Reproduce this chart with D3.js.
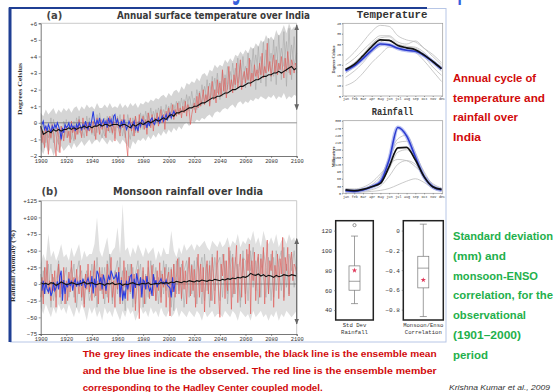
<!DOCTYPE html>
<html>
<head>
<meta charset="utf-8">
<script src="https://cdn.jsdelivr.net/npm/d3@7"></script>
<style>
  html, body { margin: 0; padding: 0; background: #fff; overflow: hidden; }
  svg { display: block; }
</style>
</head>
<body>
<script>
// ---------------- Data ----------------
// Panel (a): annual surface temperature anomaly over India (°C)
const yearsBiennial = d3.range(1900, 2101, 2);
const yearsAnnual = d3.range(1900, 2101);
const yearsObs = d3.range(1901, 2006);

const tempMean = [
  -0.2,-0.7,-0.6,-0.5,-0.6,-0.4,-0.5,-0.4,-0.5,-0.4,
  -0.4,-0.3,-0.4,-0.3,-0.4,-0.3,-0.3,-0.2,-0.3,-0.2,
  -0.3,-0.2,-0.2,-0.1,-0.2,-0.1,-0.1,-0.2,-0.1,-0.1,
  -0.1,-0.2,-0.1,-0.1,-0.2,-0.3,-0.1,-0.2,-0.1,0.0,
  -0.1,0.0,0.1,0.0,0.1,0.2,0.1,0.2,0.3,0.2,
  0.4,0.5,0.4,0.6,0.6,0.7,0.7,0.8,0.9,0.9,
  1.0,1.0,1.1,1.2,1.2,1.3,1.4,1.5,1.5,1.6,
  1.6,1.7,1.8,1.8,1.9,2.0,2.0,2.1,2.2,2.2,
  2.3,2.4,2.4,2.5,2.6,2.6,2.7,2.8,2.8,2.9,
  2.9,3.0,3.0,3.1,3.0,3.1,3.2,3.3,3.4,3.2,
  3.3];

const tempHadley = [
  -0.3,-1.2,-0.5,-1.5,-0.2,-0.8,-1.9,-0.4,-0.9,-0.1,
  -0.6,-1.4,-2.0,-0.3,-0.9,-1.8,-0.2,-0.7,-1.1,-0.4,
  -0.2,-0.9,-0.5,-1.2,0.1,-0.6,-0.3,-1.0,-0.2,-0.7,
  0.2,-0.5,-0.9,0.3,-0.4,-0.1,-0.8,0.0,-0.5,-0.2,
  -0.6,0.1,-0.3,-1.0,0.3,-0.2,-0.7,0.2,-0.4,0.0,
  -0.3,-0.9,0.2,-0.5,0.4,-0.2,-0.6,0.1,-1.1,-0.1,
  0.3,-0.4,-0.8,0.2,-0.3,0.5,-0.6,-1.3,-2.0,-0.2,
  0.3,-0.5,0.1,-0.8,0.4,-0.2,-0.6,0.5,-0.3,0.0,
  0.4,-0.4,0.2,-0.7,0.6,0.0,-0.3,0.5,-0.5,0.3,
  0.1,0.6,-0.2,0.4,0.8,0.0,0.5,-0.4,0.7,0.2,
  0.9,0.3,0.6,1.1,0.2,0.8,0.4,1.2,0.5,0.9,
  0.3,1.0,0.6,1.3,0.4,1.1,0.7,-0.1,0.5,0.9,
  1.2,0.6,1.6,0.9,1.8,1.0,1.4,2.0,1.1,1.7,
  1.3,2.2,1.0,1.8,2.5,1.4,2.0,1.2,2.6,1.7,
  2.4,1.6,3.2,1.9,2.7,1.5,2.3,3.4,2.0,2.6,
  1.8,2.9,2.3,3.6,2.1,2.8,3.8,2.0,2.7,3.1,
  2.4,3.3,2.6,3.9,2.2,3.0,2.5,3.5,2.8,3.2,
  2.6,3.6,2.9,4.2,2.7,3.4,3.0,4.8,3.1,3.7,
  2.8,3.5,4.1,3.0,3.8,2.9,3.6,3.2,4.0,3.3,
  2.7,3.9,3.1,4.3,3.4,2.9,3.8,3.5,3.0,3.6,
  3.4];

const tempObserved = [
  -0.1,0.1,-0.4,-0.2,-0.5,-0.1,-0.3,-0.6,-0.2,-0.4,
  -0.1,-0.3,0.0,-0.2,-0.5,-1.0,-0.3,-0.6,-0.1,-0.3,
  -0.2,0.0,-0.4,-0.1,-0.3,-0.2,-0.5,-0.1,-0.3,0.0,
  -0.2,-0.4,-0.1,-0.3,0.1,-0.2,-0.4,0.0,-0.2,0.2,
  0.7,0.1,-0.2,0.2,-0.1,0.3,-0.2,0.0,0.2,-0.1,
  0.1,-0.3,0.3,0.0,0.2,-0.2,0.4,0.5,0.0,0.2,
  -0.1,-0.3,0.1,-0.2,0.2,-0.1,-0.4,-0.2,0.1,-0.1,
  -0.3,-0.1,0.1,-0.4,-0.2,-0.5,0.0,-0.2,0.2,0.1,
  -0.1,0.0,-0.3,0.1,-0.2,0.2,0.3,0.0,-0.1,0.2,
  0.1,0.3,0.0,0.2,0.4,0.1,0.3,0.5,0.2,0.4,
  0.6,0.3,0.5,0.7,0.5];

const tempEnsHigh = [
  0.6,0.4,0.8,0.5,0.7,0.9,0.5,0.8,0.6,0.9,
  0.7,0.9,0.6,0.9,1.0,0.7,1.0,0.8,1.1,0.9,
  1.0,0.8,1.2,0.9,0.9,1.1,0.9,1.2,0.9,1.0,
  0.9,1.2,0.9,1.1,0.9,1.2,1.0,1.2,0.9,1.2,
  1.1,1.3,1.2,1.4,1.3,1.5,1.4,1.6,1.7,1.5,
  1.8,1.6,1.9,2.0,1.8,2.2,2.0,2.4,2.3,2.5,
  2.4,2.7,2.5,2.9,3.0,2.8,3.2,3.1,3.5,3.3,
  3.5,3.4,3.8,3.6,3.9,3.7,4.1,4.0,4.3,4.1,
  4.4,4.2,4.6,4.4,4.8,4.6,5.0,4.8,5.3,5.0,
  5.2,5.0,5.6,5.2,5.5,5.9,5.4,6.0,5.6,5.8,
  5.5];

const tempEnsLow = [
  -1.6,-1.9,-1.4,-1.8,-1.5,-2.0,-1.6,-1.8,-1.4,-1.7,
  -1.5,-1.3,-1.6,-1.2,-1.5,-1.3,-1.1,-1.4,-1.2,-1.0,
  -1.3,-1.1,-1.0,-1.2,-0.9,-1.1,-1.3,-1.0,-1.2,-0.9,
  -1.1,-1.3,-1.0,-1.2,-1.4,-1.6,-1.1,-1.3,-1.0,-1.1,
  -0.9,-1.1,-0.8,-1.0,-0.7,-0.9,-0.6,-0.8,-0.5,-0.7,
  -0.4,-0.6,-0.3,-0.5,-0.2,-0.4,-0.1,0.0,-0.2,0.1,
  0.0,0.2,0.1,0.3,0.2,0.4,0.5,0.3,0.6,0.7,
  0.6,0.8,0.9,0.8,1.0,1.1,0.9,1.2,1.3,1.1,
  1.3,1.2,1.4,1.3,1.5,1.4,1.6,1.5,1.4,1.6,
  1.5,1.7,1.4,1.6,1.5,1.8,1.4,1.6,1.5,1.7,
  1.6];

const tempMemberA = [
  -0.9,0.1,-1.2,-0.3,-1.0,0.2,-0.8,-1.3,-0.2,-0.9,
  0.2,-0.8,-0.4,-1.1,0.3,-0.6,-0.2,-0.9,0.4,-0.5,
  -0.1,-0.8,0.5,-0.4,-0.9,0.3,-0.5,0.1,-0.7,0.4,
  -0.3,0.5,-0.8,0.2,-0.4,-1.0,0.3,-0.6,0.1,-0.4,
  0.5,-0.3,0.6,-0.2,0.7,0.1,0.9,0.2,0.8,0.3,
  1.0,0.2,1.1,0.5,1.3,0.6,1.4,0.8,1.6,0.9,
  1.5,0.8,1.9,1.1,2.2,1.4,2.4,1.5,2.7,1.8,
  2.5,1.6,2.9,2.0,3.1,2.2,3.3,2.4,3.6,2.6,
  3.4,2.5,3.8,2.8,4.1,3.0,4.0,2.9,4.4,3.2,
  4.2,2.8,4.6,3.1,4.5,3.4,4.9,3.0,4.7,3.5,
  4.2];

const tempMemberB = [
  -0.2,-1.3,-0.4,-0.9,0.3,-1.2,-0.1,-0.7,-1.1,0.1,
  -0.9,-0.2,-1.0,0.1,-0.7,0.4,-0.8,0.0,-0.6,0.3,
  -0.7,0.2,-0.6,0.6,-0.3,-0.8,0.4,-0.6,0.5,-0.5,
  0.4,-0.6,0.2,-0.9,0.5,-0.3,-0.8,0.4,-0.5,0.6,
  -0.4,0.7,-0.2,0.9,-0.1,0.8,0.0,1.0,0.2,1.1,
  0.3,1.2,0.4,1.3,0.5,1.5,0.6,1.7,0.7,1.9,
  0.8,2.0,1.0,2.3,1.2,2.6,1.1,2.8,1.5,3.0,
  1.4,3.1,1.7,3.4,1.9,3.6,2.0,3.9,2.2,4.0,
  2.1,4.2,2.3,4.5,2.0,4.6,2.4,4.9,2.2,5.1,
  2.5,5.0,2.3,5.3,2.6,5.5,2.2,5.7,2.6,5.2,
  3.0];

const tempTicks = [-2, -1, 0, 1, 2, 3, 4, 5, 6];
const tempArrow = [0.8, 5.9];

// Panel (b): monsoon rainfall anomaly over India (%)
const rainMean = [
  2,0,1,-1,2,1,-2,0,3,1,
  -1,0,2,1,-1,0,1,3,0,1,
  2,0,-1,1,0,-2,1,0,2,-1,
  0,1,-2,0,-1,1,2,0,-1,0,
  1,0,2,-1,0,1,0,2,1,2,
  1,3,2,4,3,2,4,3,5,4,
  3,5,4,6,5,4,6,5,7,6,
  5,7,6,8,7,9,8,10,9,11,
  10,12,16,14,13,15,12,14,11,13,
  12,10,13,11,12,14,13,12,14,13,
  12];

const rainHadley = [
  -20,10,-30,25,-5,35,-15,5,-25,15,
  -10,20,-35,8,30,-20,12,-8,25,-30,
  5,-25,18,-12,35,-5,10,-28,22,0,
  -15,28,-20,6,-35,15,-8,30,-12,20,
  -25,10,35,-18,5,-30,25,-10,15,-22,
  8,-15,30,-28,12,40,-20,5,-35,18,
  -8,25,-30,10,-18,35,-5,20,-25,12,
  -12,30,-20,15,-40,8,22,-52,10,-15,
  25,-30,12,-8,35,-22,5,28,-18,10,
  -25,20,-10,32,-28,15,-5,25,-35,8,
  18,-48,22,-12,30,-20,10,38,-15,25,
  -22,35,-8,20,-30,12,40,-18,28,-10,
  22,-35,15,45,-20,30,-12,25,-42,18,
  35,-15,28,-25,40,8,-30,20,50,-18,
  -50,30,12,45,-22,35,-10,55,20,-38,
  40,-15,30,58,-28,25,45,-20,38,10,
  -30,52,20,60,-45,35,5,48,-25,30,
  45,-20,38,15,55,-30,28,66,-15,35,
  20,50,-35,28,10,45,-22,38,15,70,
  -25,40,20,55,-18,35,48,5,30,25,
  15];

const rainObserved = [
  -10,5,-15,2,-8,-12,-5,-18,-12,3,
  -10,-6,4,-8,12,20,-25,6,-15,1,
  -5,8,-3,5,-10,2,7,-4,3,-2,
  6,-3,8,2,-6,4,9,1,-3,12,
  -14,8,-5,20,15,2,10,-8,14,5,
  -10,3,12,6,20,14,8,10,15,2,
  18,-20,6,-25,-10,-22,5,-8,3,12,
  14,-22,8,-6,16,4,-3,10,-20,6,
  4,-8,12,-2,-10,-6,-18,15,-1,6,
  -5,2,4,8,1,3,0,6,-2,-4,
  -6,-20,10,-12,2];

const rainEnsHigh = [
  30,45,35,75,40,50,35,45,60,40,
  45,35,55,40,50,60,35,50,40,45,
  45,60,100,50,40,55,70,40,50,55,
  85,45,120,50,55,40,55,45,60,50,
  40,55,45,50,55,35,50,40,55,45,
  45,80,50,40,55,45,60,50,55,60,
  50,60,55,60,65,55,50,65,60,55,
  65,55,60,70,55,65,60,75,55,65,
  60,70,65,80,60,70,55,80,65,60,
  70,60,75,55,65,70,60,75,65,70,
  55];

const rainEnsLow = [
  -35,-45,-30,-40,-50,-35,-45,-30,-40,-35,
  -45,-30,-40,-50,-35,-45,-30,-40,-55,-35,
  -45,-35,-50,-40,-55,-35,-45,-40,-50,-35,
  -45,-55,-40,-50,-35,-45,-40,-55,-45,-35,
  -45,-40,-50,-35,-45,-40,-50,-35,-45,-50,
  -40,-50,-45,-35,-50,-40,-45,-50,-40,-45,
  -50,-40,-45,-55,-40,-50,-45,-40,-50,-45,
  -45,-50,-40,-45,-50,-40,-45,-55,-40,-45,
  -50,-45,-55,-40,-50,-45,-40,-50,-45,-55,
  -45,-50,-40,-55,-45,-50,-40,-45,-50,-45,
  -40];

const rainMemberA = [
  15,-20,25,-10,30,-25,5,35,-15,20,
  -30,10,25,-20,15,35,-25,5,20,-15,
  30,-20,40,-10,25,-30,35,10,-25,20,
  -15,40,-30,25,-10,30,-35,15,35,-20,
  20,-30,25,-15,30,-25,10,-20,35,-10,
  25,-35,30,-15,40,-25,20,35,-20,30,
  -20,40,15,-30,45,-10,35,-25,40,10,
  -25,45,20,-15,50,-20,40,15,-25,50,
  -15,45,20,55,-10,40,-20,50,25,-15,
  45,-20,50,25,-10,55,-5,45,20,50,
  10];

const rainMemberB = [
  -25,20,-15,30,-35,10,-20,25,-30,5,
  25,-20,5,30,-35,10,20,-30,15,-25,
  -10,30,-35,20,-15,25,-20,45,-30,15,
  35,-25,20,-40,30,-15,25,-30,5,30,
  -35,15,-20,35,-10,25,-30,20,-15,30,
  -20,25,-40,35,-10,30,-35,15,40,-15,
  35,-30,20,40,-25,30,-35,45,-10,30,
  40,-20,35,-30,25,45,-15,30,-35,40,
  35,-25,50,-5,35,-30,45,10,-20,40,
  -25,40,-10,35,50,-20,30,-15,45,-5,
  25];

const rainTicks = [-75, -50, -25, 0, 25, 50, 75, 100, 125];
const rainArrow = [-60, 68];
const yearTicks = [1900, 1920, 1940, 1960, 1980, 2000, 2020, 2040, 2060, 2080, 2100];

// Annual cycle (monthly climatology)
const months = ["jan","feb","mar","apr","may","jun","jul","aug","sep","oct","nov","dec"];
const cycTempObserved = [17.2, 19.5, 23.0, 27.0, 30.0, 29.6, 28.0, 27.0, 26.5, 24.5, 21.5, 18.0];
const cycTempMean     = [17.8, 20.2, 24.3, 28.8, 32.0, 31.8, 29.3, 28.2, 27.3, 24.8, 21.6, 18.2];
const cycTempMembers = [
  [22, 26, 31, 36, 39, 38.5, 34, 32, 31, 28, 25, 21],
  [20, 23, 27, 31, 34, 34, 31, 30, 31.5, 28, 24, 20],
  [18, 21, 25, 30, 33, 33.5, 30, 29, 28.5, 26, 22, 19],
  [16, 19, 23, 28, 31, 32, 29.5, 28.5, 28, 25, 21, 17],
  [14, 17, 21, 26, 29, 30, 28, 27, 26.5, 24, 19, 15],
  [10, 12, 16, 21, 25, 28.5, 28, 27.5, 26, 22, 17, 12]
];
const cycTempTicks = [5, 10, 15, 20, 25, 30, 35, 40];

const cycRainObserved = [11, 8, 14, 27, 48, 138, 272, 237, 151, 69, 27, 14];
const cycRainMean     = [14, 11, 16, 27, 41, 110, 188, 190, 138, 69, 27, 16];
const cycRainMembers = [
  [12, 10, 15, 30, 60, 150, 225, 240, 170, 80, 30, 15],
  [15, 12, 18, 35, 70, 140, 210, 215, 160, 90, 35, 18],
  [10, 8, 12, 25, 45, 100, 170, 180, 140, 70, 25, 12],
  [20, 18, 25, 45, 80, 120, 140, 135, 110, 75, 40, 22],
  [8, 6, 8, 15, 30, 70, 120, 135, 120, 60, 20, 10],
  [5, 4, 5, 8, 12, 20, 35, 50, 60, 45, 20, 8]
];
const cycRainTicks = [0, 30, 60, 90, 120, 150, 180, 210, 240, 270, 300];

// Box plots: [lower whisker, q1, median, q3, upper whisker]
const stdDevBox = [46.5, 60, 69, 84.5, 114.5];
const stdDevOutliers = [125.5];
const stdDevObserved = 80;
const stdDevTicks = [40, 60, 80, 100, 120];

const ensoBox = [-0.87, -0.58, -0.38, -0.26, 0.065];
const ensoOutliers = [];
const ensoObserved = -0.5;
const ensoTicks = [-0.8, -0.6, -0.4, -0.2, 0];

// ---------------- Drawing ----------------
const W = 558, H = 392;
const svg = d3.select("body").append("svg").attr("width", W).attr("height", H);
const MONO = "'Liberation Mono', 'DejaVu Sans Mono', monospace";
const SANS = "'DejaVu Sans', Verdana, sans-serif";
const NOTE = "'Liberation Sans', Arial, sans-serif";

const defs = svg.append("defs");
defs.append("marker").attr("id", "ah").attr("viewBox", "0 0 10 10")
  .attr("refX", 9).attr("refY", 5).attr("markerWidth", 5).attr("markerHeight", 5)
  .attr("orient", "auto-start-reverse")
  .append("path").attr("d", "M0,1 L10,5 L0,9 Z").attr("fill", "#666");
defs.append("clipPath").attr("id", "imgclip")
  .append("rect").attr("x", 11).attr("y", 9).attr("width", 435).attr("height", 333);

// slide heading, only its lower edge shows above the figure
svg.append("text").attr("transform", "translate(140,-0.6) scale(1,2.2)")
  .attr("font-family", SANS).attr("font-weight", "bold").attr("font-size", 14)
  .attr("fill", "#3560dc").attr("textLength", 335).attr("lengthAdjust", "spacingAndGlyphs")
  .text("Climate change over India: the ensemble scope");

// embedded figure frame
svg.append("rect").attr("x", 10.5).attr("y", 8.5).attr("width", 435.5).attr("height", 333.5)
  .attr("fill", "#fff").attr("stroke", "#b7c6e6").attr("stroke-width", 1);
svg.append("line").attr("x1", 10).attr("x2", 10).attr("y1", 7.5).attr("y2", 342)
  .attr("stroke", "#1f3f94").attr("stroke-width", 3);
svg.append("line").attr("x1", 9).attr("x2", 427).attr("y1", 8).attr("y2", 8)
  .attr("stroke", "#1f3f94").attr("stroke-width", 2);

const fig = svg.append("g").attr("clip-path", "url(#imgclip)");

const signed = v => v > 0 ? "+" + v : v < 0 ? "\u2212" + Math.abs(v) : "0";

function styleAxis(sel, fs) {
  sel.select(".domain").attr("stroke", "#555").attr("stroke-width", 0.8);
  sel.selectAll(".tick line").attr("stroke", "#555").attr("stroke-width", 0.6);
  sel.selectAll("text").attr("font-family", MONO).attr("font-size", fs).attr("fill", "#333");
}

function seriesPanel(o) {
  const x = d3.scaleLinear().domain([1900, 2100]).range([40.7, 296.7]);
  const y = d3.scaleLinear().domain(o.domain).range([o.bottom, o.top]);
  const g = fig.append("g");

  // plot frame (top & right)
  g.append("path").attr("d", `M${x(1900)},${o.top}H${x(2100)}V${o.bottom}`)
    .attr("fill", "none").attr("stroke", "#bdbdbd").attr("stroke-width", 0.8);

  const area = d3.area()
    .x((d, i) => x(yearsBiennial[i]))
    .y0((d, i) => y(o.low[i]))
    .y1(d => y(d));
  g.append("path").datum(o.high).attr("d", area).attr("fill", o.bandFill);

  const lineB = d3.line().x((d, i) => x(yearsBiennial[i])).y(d => y(d));
  const lineA = d3.line().x((d, i) => x(yearsAnnual[i])).y(d => y(d));
  const lineO = d3.line().x((d, i) => x(yearsObs[i])).y(d => y(d));

  o.members.forEach(m => {
    g.append("path").datum(m).attr("d", lineB).attr("fill", "none")
      .attr("stroke", "#a8a8a8").attr("stroke-width", 0.7).attr("opacity", 0.85);
  });

  // zero line
  g.append("line").attr("x1", x(1900)).attr("x2", x(2100)).attr("y1", y(0)).attr("y2", y(0))
    .attr("stroke", "#666").attr("stroke-width", 0.7);

  g.append("path").datum(o.red).attr("d", lineA).attr("fill", "none")
    .attr("stroke", "#e05a57").attr("stroke-width", 0.8).attr("opacity", 0.8);
  g.append("path").datum(o.obs).attr("d", lineO).attr("fill", "none")
    .attr("stroke", "#2b3de0").attr("stroke-width", 1.05);
  g.append("path").datum(o.mean).attr("d", lineB).attr("fill", "none")
    .attr("stroke", "#111").attr("stroke-width", 1.1);

  // spread arrow at 2100
  g.append("line").attr("x1", x(2100)).attr("x2", x(2100))
    .attr("y1", y(o.arrow[0])).attr("y2", y(o.arrow[1]))
    .attr("stroke", "#666").attr("stroke-width", 1.2)
    .attr("marker-start", "url(#ah)").attr("marker-end", "url(#ah)");

  const ay = g.append("g").attr("transform", `translate(${x(1900)},0)`)
    .call(d3.axisLeft(y).tickValues(o.ticks).tickFormat(signed).tickSize(2).tickPadding(1.5));
  styleAxis(ay, 5.8);
  const ax = g.append("g").attr("transform", `translate(0,${o.bottom})`)
    .call(d3.axisBottom(x).tickValues(yearTicks).tickFormat(d3.format("d")).tickSize(2).tickPadding(1));
  styleAxis(ax, 5.4);

  g.append("text").attr("transform", `translate(${o.labelX},${o.labelY}) rotate(-90)`)
    .attr("text-anchor", "middle").attr("font-family", "'Liberation Serif', serif")
    .attr("font-weight", "bold").attr("font-size", 6.5).attr("fill", "#333")
    .attr("textLength", o.labelLen).attr("lengthAdjust", "spacingAndGlyphs")
    .text(o.label);

  g.append("text").attr("x", o.tagX).attr("y", o.titleY)
    .attr("font-family", SANS).attr("font-weight", "bold").attr("font-size", 10)
    .attr("fill", "#444").text(o.tag);
  g.append("text").attr("x", o.titleX).attr("y", o.titleY)
    .attr("font-family", SANS).attr("font-weight", "bold").attr("font-size", 10)
    .attr("fill", "#3a3a3a").attr("textLength", o.titleLen).attr("lengthAdjust", "spacingAndGlyphs")
    .text(o.title);
}

seriesPanel({
  domain: [-2, 6], top: 23.3, bottom: 156, ticks: tempTicks,
  mean: tempMean, red: tempHadley, obs: tempObserved,
  high: tempEnsHigh, low: tempEnsLow, members: [tempMemberA, tempMemberB],
  bandFill: "#d5d5d5", arrow: tempArrow,
  label: "Degrees Celsius", labelX: 22, labelY: 89, labelLen: 52,
  tag: "(a)", tagX: 46.5, title: "Annual surface temperature over India",
  titleX: 117, titleY: 19, titleLen: 193
});

seriesPanel({
  domain: [-75, 125], top: 200.7, bottom: 334, ticks: rainTicks,
  mean: rainMean, red: rainHadley, obs: rainObserved,
  high: rainEnsHigh, low: rainEnsLow, members: [rainMemberA, rainMemberB],
  bandFill: "#e0e0e0", arrow: rainArrow,
  label: "Rainfall Anomaly (%)", labelX: 15, labelY: 266, labelLen: 72,
  tag: "(b)", tagX: 41.5, title: "Monsoon rainfall over India",
  titleX: 113, titleY: 195, titleLen: 150
});

// annual cycle panels
function cyclePanel(o) {
  const x = d3.scalePoint().domain(months).range([345.5, 441.5]);
  const y = d3.scaleLinear().domain(o.domain).range([o.bottom, o.top]);
  const g = fig.append("g");
  g.append("rect").attr("x", 343).attr("y", o.top).attr("width", 99.7).attr("height", o.bottom - o.top)
    .attr("fill", "none").attr("stroke", "#999").attr("stroke-width", 0.7);
  const line = d3.line().x((d, i) => x(months[i])).y(d => y(d)).curve(d3.curveMonotoneX);
  o.members.forEach(m => {
    g.append("path").datum(m).attr("d", line).attr("fill", "none")
      .attr("stroke", "#bdbdbd").attr("stroke-width", 0.8);
  });
  g.append("path").datum(o.obs).attr("d", line).attr("fill", "none")
    .attr("stroke", "#9ea8f0").attr("stroke-width", 4).attr("opacity", 0.7);
  g.append("path").datum(o.obs).attr("d", line).attr("fill", "none")
    .attr("stroke", "#2b3bd0").attr("stroke-width", 1.6);
  g.append("path").datum(o.mean).attr("d", line).attr("fill", "none")
    .attr("stroke", "#111").attr("stroke-width", 1.7);

  const ay = g.append("g").attr("transform", "translate(343,0)")
    .call(d3.axisLeft(y).tickValues(o.ticks).tickSize(1).tickPadding(1));
  styleAxis(ay, 3.4);
  ay.select(".domain").remove();
  const ax = g.append("g").attr("transform", `translate(0,${o.bottom})`)
    .call(d3.axisBottom(x).tickSize(1).tickPadding(1));
  styleAxis(ax, 3.4);
  ax.select(".domain").remove();

  g.append("text").attr("transform", `translate(335,${(o.top + o.bottom) / 2}) rotate(-90)`)
    .attr("text-anchor", "middle").attr("font-family", "'Liberation Serif', serif")
    .attr("font-weight", "bold").attr("font-size", 4.2).attr("fill", "#333")
    .text(o.label);
  g.append("text").attr("x", o.titleX).attr("y", o.titleY)
    .attr("font-family", MONO).attr("font-weight", "bold").attr("font-size", 10)
    .attr("fill", "#333").attr("textLength", o.titleLen).attr("lengthAdjust", "spacingAndGlyphs")
    .text(o.title);
}

cyclePanel({
  domain: [5, 40], top: 23.3, bottom: 96, ticks: cycTempTicks,
  obs: cycTempObserved, mean: cycTempMean, members: cycTempMembers,
  label: "Degrees Celsius", title: "Temperature", titleX: 356.7, titleY: 18.3, titleLen: 70.7
});
cyclePanel({
  domain: [0, 300], top: 120.7, bottom: 193.3, ticks: cycRainTicks,
  obs: cycRainObserved, mean: cycRainMean, members: cycRainMembers,
  label: "Millimeters", title: "Rainfall", titleX: 371.7, titleY: 115, titleLen: 41.6
});

// box plots
function boxPanel(o) {
  const y = d3.scaleLinear().domain(o.domain).range([320, 220.7]);
  const g = fig.append("g");
  const cx = (o.x0 + o.x1) / 2;
  g.append("rect").attr("x", o.x0).attr("y", 220.7).attr("width", o.x1 - o.x0).attr("height", 99.3)
    .attr("fill", "none").attr("stroke", "#222").attr("stroke-width", 1.5);
  const ay = g.append("g").attr("transform", `translate(${o.x0},0)`)
    .call(d3.axisLeft(y).tickValues(o.ticks).tickFormat(o.fmt).tickSize(1.5).tickPadding(2));
  styleAxis(ay, 6);
  ay.select(".domain").remove();

  const [lo, q1, med, q3, hi] = o.box;
  g.append("line").attr("x1", cx).attr("x2", cx).attr("y1", y(hi)).attr("y2", y(q3))
    .attr("stroke", "#777").attr("stroke-width", 0.7);
  g.append("line").attr("x1", cx).attr("x2", cx).attr("y1", y(q1)).attr("y2", y(lo))
    .attr("stroke", "#777").attr("stroke-width", 0.7);
  [lo, hi].forEach(v => g.append("line").attr("x1", cx - 3.5).attr("x2", cx + 3.5)
    .attr("y1", y(v)).attr("y2", y(v)).attr("stroke", "#777").attr("stroke-width", 0.7));
  g.append("rect").attr("x", cx - 5.5).attr("y", y(q3)).attr("width", 11).attr("height", y(q1) - y(q3))
    .attr("fill", "none").attr("stroke", "#777").attr("stroke-width", 0.7);
  g.append("line").attr("x1", cx - 5.5).attr("x2", cx + 5.5).attr("y1", y(med)).attr("y2", y(med))
    .attr("stroke", "#777").attr("stroke-width", 0.7);
  o.outliers.forEach(v => g.append("circle").attr("cx", cx).attr("cy", y(v)).attr("r", 1.6)
    .attr("fill", "none").attr("stroke", "#555").attr("stroke-width", 0.6));
  g.append("path").attr("transform", `translate(${cx},${y(o.obs)})`)
    .attr("d", d3.symbol(d3.symbolStar, 9)()).attr("fill", "#e0395a");

  o.caption.forEach((t, i) => g.append("text").attr("x", cx).attr("y", 327 + i * 7.3)
    .attr("text-anchor", "middle").attr("font-family", MONO).attr("font-size", 5.6)
    .attr("fill", "#333").text(t));
}

boxPanel({ x0: 335.7, x1: 373.3, domain: [30, 130], ticks: stdDevTicks, fmt: d3.format("d"),
  box: stdDevBox, outliers: stdDevOutliers, obs: stdDevObserved, caption: ["Std Dev", "Rainfall"] });
boxPanel({ x0: 403.3, x1: 443.3, domain: [-0.905, 0.1], ticks: ensoTicks,
  fmt: v => v === 0 ? "0" : "\u2212" + Math.abs(v).toFixed(1),
  box: ensoBox, outliers: ensoOutliers, obs: ensoObserved, caption: ["Monsoon/Enso", "Correlation"] });

// slide notes
function note(lines, x, y0, dy, color, size, widths) {
  lines.forEach((t, i) => {
    const tx = svg.append("text").attr("x", x).attr("y", y0 + i * dy)
      .attr("font-family", NOTE).attr("font-weight", "bold").attr("font-size", size)
      .attr("fill", color).text(t);
    if (widths[i]) tx.attr("textLength", widths[i]).attr("lengthAdjust", "spacingAndGlyphs");
  });
}
note(["Annual cycle of", "temperature and", "rainfall over", "India"],
  453, 82, 19.6, "#d10a0a", 11, [83, 92, 65, 28]);
note(["Standard deviation", "(mm) and", "monsoon-ENSO", "correlation, for the",
      "observational", "(1901\u20132000)", "period"],
  453, 240, 19.8, "#1fb04c", 11, [100, 53, 85, 100, 73, 68, 35]);
note(["The grey lines indicate the ensemble, the black line is the ensemble mean",
      "and the blue line is the observed. The red line is the ensemble member",
      "corresponding to the Hadley Center coupled model."],
  82.7, 357, 16.8, "#d10a0a", 9, [354, 354, 240]);

svg.append("text").attr("x", 449).attr("y", 390)
  .attr("font-family", NOTE).attr("font-style", "italic")
  .attr("font-size", 8).attr("fill", "#333").attr("textLength", 101).attr("lengthAdjust", "spacingAndGlyphs")
  .text("Krishna Kumar et al., 2009");
</script>
</body>
</html>
